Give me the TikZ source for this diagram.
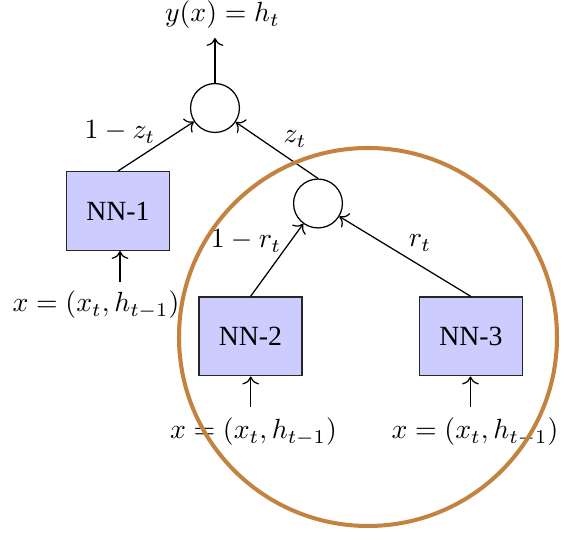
\documentclass[tikz,border=0pt]{standalone}
\usepackage{fontspec}
\usetikzlibrary{arrows.meta}
\newfontfamily\nnfont{Liberation Serif}
\definecolor{ringbrown}{RGB}{196,130,64}
\definecolor{boxblue}{RGB}{204,204,255}
\tikzset{
  nnbox/.style={draw=black!85, fill=boxblue, minimum width=37.1pt, minimum height=28.4pt, inner sep=0pt, font=\nnfont},
  gate/.style={draw, circle, minimum size=17.6pt, inner sep=0pt, line width=0.45pt},
  lbl/.style={inner sep=0pt, anchor=base},
  conn/.style={-{To[scale=1.1]}, line width=0.45pt},
}
\begin{document}
\begin{tikzpicture}[x=0.36pt, y=-0.36pt]
\useasboundingbox (0,0) rectangle (568,556);
% gates
\node[gate] (c1) at (215,108) {};
\node[gate] (c2) at (318,203.5) {};
% boxes
\node[nnbox] (nn1) at (118,211) {NN-1};
\node[nnbox] (nn2) at (250.5,336.5) {NN-2};
\node[nnbox] (nn3) at (471,336.5) {NN-3};
% labels
\node[lbl] (yout) at (222.5,22) {$y(x) = h_t$};
\node[lbl] (l1z) at (120,139) {$1 - z_t$};
\node[lbl] (lz) at (295,143) {$z_t$};
\node[lbl] (l1r) at (246,248) {$1 - r_t$};
\node[lbl] (lr) at (420,247) {$r_t$};
\node[lbl] (x1) at (96,312) {$x = (x_t, h_{t-1})$};
\node[lbl] (x2) at (253.5,439) {$x = (x_t, h_{t-1})$};
\node[lbl] (x3) at (475,439) {$x = (x_t, h_{t-1})$};
% free ends
\coordinate (out) at (215,38);
\coordinate (in1) at (120,282);
\coordinate (in2) at (250.7,407);
\coordinate (in3) at (470.5,407);
% connectors
\draw[conn] (c1) -- (out);
\draw[conn] (nn1.north) -- (c1);
\draw[conn] (c2.north) -- (c1);
\draw[conn] (nn2.north) -- (c2);
\draw[conn] (nn3.north) -- (c2);
\draw[conn] (in1) -- (in1 |- nn1.south);
\draw[conn] (in2) -- (in2 |- nn2.south);
\draw[conn] (in3) -- (in3 |- nn3.south);
% highlight ring
\draw[ringbrown, line width=1.45pt] (368,337) circle[radius=68.04pt];
\end{tikzpicture}
\end{document}
